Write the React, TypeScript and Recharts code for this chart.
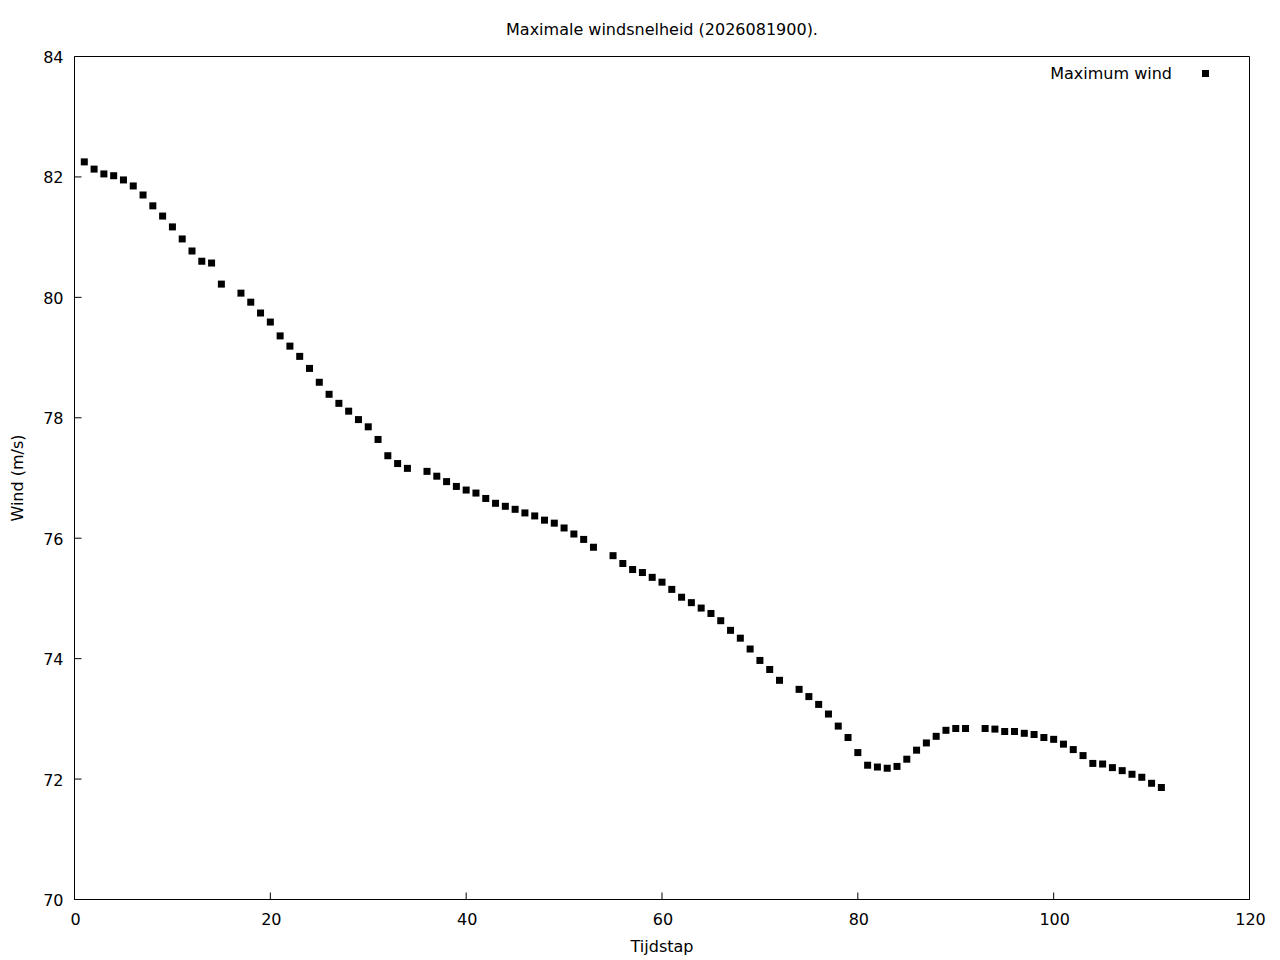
import React from 'react'
import { ScatterChart, Scatter, XAxis, YAxis } from 'recharts'

// Tijdstappen (16, 35, 54, 73 en 92 ontbreken in de reeks)
const tijdstap = [
  1, 2, 3, 4, 5, 6, 7, 8, 9, 10, 11, 12, 13, 14, 15,
  17, 18, 19, 20, 21, 22, 23, 24, 25, 26, 27, 28, 29, 30, 31, 32, 33, 34,
  36, 37, 38, 39, 40, 41, 42, 43, 44, 45, 46, 47, 48, 49, 50, 51, 52, 53,
  55, 56, 57, 58, 59, 60, 61, 62, 63, 64, 65, 66, 67, 68, 69, 70, 71, 72,
  74, 75, 76, 77, 78, 79, 80, 81, 82, 83, 84, 85, 86, 87, 88, 89, 90, 91,
  93, 94, 95, 96, 97, 98, 99, 100, 101, 102, 103, 104, 105, 106, 107, 108, 109, 110, 111,
]

const maxWind = [
  82.25, 82.13, 82.05, 82.02, 81.95, 81.85, 81.7, 81.52, 81.35, 81.17, 80.97, 80.77, 80.6, 80.57, 80.22,
  80.07, 79.92, 79.74, 79.59, 79.36, 79.19, 79.02, 78.82, 78.59, 78.39, 78.24, 78.11, 77.97, 77.85, 77.64, 77.37, 77.24, 77.16,
  77.11, 77.03, 76.94, 76.86, 76.8, 76.75, 76.66, 76.58, 76.53, 76.48, 76.42, 76.37, 76.3, 76.25, 76.17, 76.07, 75.98, 75.85,
  75.71, 75.58, 75.48, 75.43, 75.35, 75.27, 75.15, 75.02, 74.93, 74.84, 74.75, 74.63, 74.47, 74.34, 74.16, 73.97, 73.82, 73.64,
  73.49, 73.37, 73.24, 73.08, 72.88, 72.69, 72.44, 72.23, 72.2, 72.18, 72.21, 72.33, 72.48, 72.6, 72.71, 72.81, 72.84, 72.84,
  72.84, 72.83, 72.79, 72.79, 72.76, 72.74, 72.69, 72.66, 72.58, 72.49, 72.39, 72.26, 72.25, 72.19, 72.14, 72.08, 72.03, 71.93, 71.86,
]

const xTicks = [0, 20, 40, 60, 80, 100, 120]
const yTicks = [70, 72, 74, 76, 78, 80, 82, 84]

const FONT = '"DejaVu Sans", sans-serif'
const FS = 16
const TICK = 7

const data = tijdstap.map((t, i) => ({ t, wind: maxWind[i] }))

// gnuplot-achtige ticks: naar binnen gericht
const LeftTick = ({ x, y, payload }: any) => (
  <g>
    <line x1={x} y1={y} x2={x + TICK} y2={y} stroke="#000" />
    <text x={x - 11} y={y + 1} textAnchor="end" dominantBaseline="central" fontSize={FS} fontFamily={FONT} fill="#000">
      {payload.value}
    </text>
  </g>
)

const RightTick = ({ x, y }: any) => <line x1={x} y1={y} x2={x - TICK} y2={y} stroke="#000" />

const BottomTick = ({ x, y, payload }: any) => (
  <g>
    <line x1={x} y1={y} x2={x} y2={y - TICK} stroke="#000" />
    <text x={x + 1} y={y + 20} textAnchor="middle" dominantBaseline="central" fontSize={FS} fontFamily={FONT} fill="#000">
      {payload.value}
    </text>
  </g>
)

const TopTick = ({ x, y }: any) => <line x1={x} y1={y} x2={x} y2={y + TICK} stroke="#000" />

const Square = ({ cx, cy }: any) => <rect x={cx - 3.5} y={cy - 3.5} width={7} height={7} fill="#000" />

export default function App() {
  const plotCenter = 662
  return (
    <div style={{ position: 'absolute', left: 0, top: 0, width: 1280, height: 960, background: '#fff', fontFamily: FONT, color: '#000' }}>
      <div style={{ position: 'absolute', left: plotCenter - 300, width: 600, top: 20, textAlign: 'center', fontSize: FS, lineHeight: '20px' }}>
        Maximale windsnelheid (2026081900).
      </div>
      <div style={{ position: 'absolute', left: plotCenter - 300, width: 600, top: 937, textAlign: 'center', fontSize: FS, lineHeight: '20px' }}>
        Tijdstap
      </div>
      <div style={{ position: 'absolute', left: 18, top: 478, width: 200, marginLeft: -100, marginTop: -10, textAlign: 'center', fontSize: FS, lineHeight: '20px', transform: 'rotate(-90deg)' }}>
        Wind (m/s)
      </div>
      <div style={{ position: 'absolute', right: 1280 - 1172, top: 64, fontSize: FS, lineHeight: '20px', whiteSpace: 'nowrap' }}>
        Maximum wind
      </div>
      <div style={{ position: 'absolute', left: 1202, top: 70, width: 7, height: 7, background: '#000' }} />

      <ScatterChart width={1280} height={960} margin={{ top: 55.5, right: 29.5, bottom: 30.5, left: 14.5 }}>
        <XAxis
          xAxisId="bottom"
          dataKey="t"
          type="number"
          domain={[0, 120]}
          ticks={xTicks}
          height={30}
          tickSize={0}
          tickMargin={0}
          tickLine={false}
          tick={<BottomTick />}
          axisLine={{ stroke: '#000' }}
          interval={0}
        />
        <XAxis
          xAxisId="top"
          orientation="top"
          type="number"
          domain={[0, 120]}
          ticks={xTicks}
          height={1}
          tickSize={0}
          tickMargin={0}
          tickLine={false}
          tick={<TopTick />}
          axisLine={{ stroke: '#000' }}
          interval={0}
        />
        <YAxis
          yAxisId="left"
          dataKey="wind"
          type="number"
          domain={[70, 84]}
          ticks={yTicks}
          width={60}
          tickSize={0}
          tickMargin={0}
          tickLine={false}
          tick={<LeftTick />}
          axisLine={{ stroke: '#000' }}
          interval={0}
        />
        <YAxis
          yAxisId="right"
          orientation="right"
          type="number"
          domain={[70, 84]}
          ticks={yTicks}
          width={1}
          tickSize={0}
          tickMargin={0}
          tickLine={false}
          tick={<RightTick />}
          axisLine={{ stroke: '#000' }}
          interval={0}
        />
        <Scatter
          name="Maximum wind"
          data={data}
          xAxisId="bottom"
          yAxisId="left"
          fill="#000"
          shape={<Square />}
          isAnimationActive={false}
        />
      </ScatterChart>
    </div>
  )
}
